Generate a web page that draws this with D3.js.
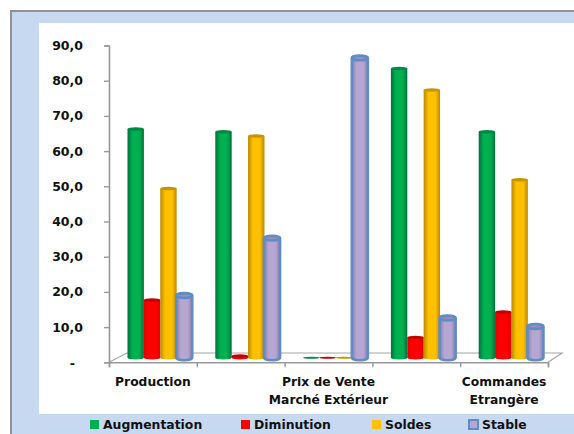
<!DOCTYPE html>
<html>
<head>
<meta charset="utf-8">
<script src="https://cdnjs.cloudflare.com/ajax/libs/d3/7.8.5/d3.min.js"></script>
<style>
    html, body { margin: 0; padding: 0; background: #fff; }
    svg { display: block; }
    text { font-family: "DejaVu Sans", sans-serif; font-weight: bold; fill: #111; }
</style>
</head>
<body>
<svg id="chart" width="574" height="434"></svg>
<script>
const categories = ['Production', 'Prix de Revient', 'Prix de Vente Marché Extérieur', 'Stocks', 'Commandes Etrangère'];
const categoryLabels = [['Production'], [], ['Prix de Vente', 'Marché Extérieur'], [], ['Commandes', 'Etrangère']];
const seriesNames = ['Augmentation', 'Diminution', 'Soldes', 'Stable'];
const augmentation = [65.0, 64.2, 0, 82.2, 64.2];
const diminution = [16.4, 0.5, 0, 5.8, 13.0];
const soldes = [48.1, 63.0, 0, 76.1, 50.6];
const stable = [17.7, 34.0, 85.2, 11.3, 8.9];
const yTicks = [0, 10, 20, 30, 40, 50, 60, 70, 80, 90];

const seriesValues = [augmentation, diminution, soldes, stable];
const colors = {
    Augmentation: ['#00703c', '#00b050', '#008a45'],
    Diminution: ['#e00000', '#ff0000', '#c40000'],
    Soldes: ['#b98a00', '#ffc000', '#c79500'],
    Stable: ['#8d7da6', '#b6a6d2', '#9c8cb6']
};
const legendX = { Augmentation: 90, Diminution: 241, Soldes: 372, Stable: 468 };

const svg = d3.select('#chart');

// Frame
svg.append('rect').attr('x', 11).attr('y', 11).attr('width', 570).attr('height', 430)
    .attr('fill', '#c6d9f1').attr('stroke', '#929292').attr('stroke-width', 2);
svg.append('rect').attr('x', 39).attr('y', 23).attr('width', 535).attr('height', 391).attr('fill', '#fff');

// Scales
const x = d3.scaleBand().domain(categories).range([109, 548]);
const xInner = d3.scaleBand().domain(seriesNames).range([18.5, 84]);
const y = d3.scaleLinear().domain([0, 90]).range([362.3, 45.5]);
const depth = 4.5; // bars stand back from the front edge of the floor

// Gradients for the cylinders
const defs = svg.append('defs');
seriesNames.forEach((name, i) => {
    const g = defs.append('linearGradient').attr('id', 'grad' + i);
    g.append('stop').attr('offset', '0%').attr('stop-color', colors[name][0]);
    g.append('stop').attr('offset', '30%').attr('stop-color', colors[name][1]);
    g.append('stop').attr('offset', '72%').attr('stop-color', colors[name][1]);
    g.append('stop').attr('offset', '100%').attr('stop-color', colors[name][0]);
});

// Floor
const floorBack = 353, floorFront = y(0), floorRight = 562;
svg.append('path')
    .attr('d', `M109,${floorFront}L127,${floorBack}H${floorRight}L548,${floorFront}`)
    .attr('fill', 'none').attr('stroke', '#a6a6a6').attr('stroke-width', 1.2);

// Axes
const yAxis = d3.axisLeft(y).tickValues(yTicks).tickSize(5).tickPadding(21)
    .tickFormat(d => d === 0 ? '-' : d3.format('.1f')(d).replace('.', ','));
const gy = svg.append('g').attr('transform', 'translate(109,0)').call(yAxis);
gy.selectAll('text').style('font-size', '12.5px').attr('dy', '0.32em');
gy.selectAll('.tick').filter(d => d === 0).select('text').attr('dx', -8).attr('dy', '0.42em');

const xAxis = d3.axisBottom(d3.scaleLinear().domain([0, categories.length]).range([109, 548]))
    .ticks(categories.length).tickSize(5).tickFormat('');
const gx = svg.append('g').attr('transform', `translate(0,${floorFront})`).call(xAxis);
[gy, gx].forEach(g => {
    g.selectAll('path.domain').attr('stroke', '#999').attr('stroke-width', 1.6);
    g.selectAll('line').attr('stroke', '#999').attr('stroke-width', 1.4);
});

// Cylinders
seriesNames.forEach((name, s) => {
    const isStable = name === 'Stable';
    const w = isStable ? 16 : 16.4;
    const ry = isStable ? 2.4 : 1.7;
    const strokeAttr = sel => isStable
        ? sel.attr('stroke', '#5f8cc6').attr('stroke-width', 2.6)
        : sel;
    categories.forEach((c, i) => {
        const v = seriesValues[s][i];
        const left = x(c) + xInner(name) - (isStable ? 0.4 : 0);
        const cx = left + w / 2;
        const top = y(v) - depth;
        const base = y(0) - depth;
        const g = svg.append('g').attr('class', 'bar');
        if (v > 0) {
            const body = g.append('path')
                .attr('d', `M${left},${top}V${base}A${w / 2},${ry} 0 0 0 ${left + w},${base}V${top}`)
                .attr('fill', `url(#grad${s})`);
            strokeAttr(body);
        }
        const cap = g.append('ellipse')
            .attr('cx', cx).attr('cy', top).attr('rx', w / 2).attr('ry', v > 0 ? ry : 1)
            .attr('fill', colors[name][2]);
        strokeAttr(cap);
    });
});

// Category labels
categoryLabels.forEach((lines, i) => {
    const t = svg.append('text').attr('text-anchor', 'middle').style('font-size', '12.3px');
    lines.forEach((line, k) => {
        t.append('tspan')
            .attr('x', x(categories[i]) + x.bandwidth() / 2)
            .attr('y', 386 + k * 17.5)
            .text(line);
    });
});

// Legend
seriesNames.forEach((name, s) => {
    const lx = legendX[name];
    const isStable = name === 'Stable';
    svg.append('rect')
        .attr('x', lx + (isStable ? 1 : 0)).attr('y', 420)
        .attr('width', 9).attr('height', 9)
        .attr('fill', colors[name][1])
        .attr('stroke', isStable ? '#5f8cc6' : 'none')
        .attr('stroke-width', isStable ? 2 : 0);
    svg.append('text')
        .attr('x', lx + (isStable ? 14 : 13)).attr('y', 429)
        .style('font-size', '12.4px')
        .text(name);
});
</script>
</body>
</html>
